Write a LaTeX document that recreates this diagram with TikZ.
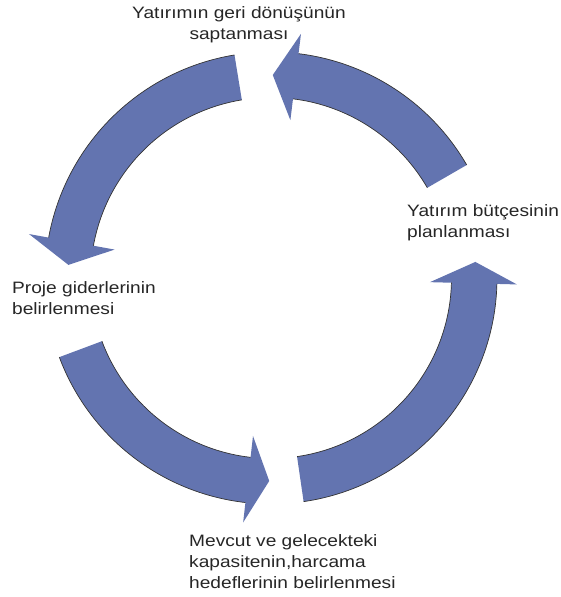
\documentclass[tikz,border=0pt]{standalone}
\usepackage{fontspec}
\setmainfont{Liberation Sans}[FakeStretch=1.16]
\definecolor{cycleblue}{RGB}{99,116,176}
\tikzset{
  ringarrow/.style={fill=cycleblue},
  ringedge/.style={draw=black!80, line width=0.7pt},
  phasetext/.style={inner sep=0pt, text=black!85, font=\fontsize{16.5}{21}\selectfont}
}
\begin{document}
\begin{tikzpicture}[x=1pt,y=1pt]
    \useasboundingbox (-271,278) rectangle (290,-319);

    \fill[ringarrow] (30:180.5) arc (30:83:180.5) -- (83:159) -- (89.5:203) -- (83:246) -- (83:226) arc (83:30:226) -- cycle;
    \draw[ringedge] (30:180.5) arc (30:83:180.5);
    \draw[ringedge] (30:226) arc (30:83:226);

    \fill[ringarrow] (99.3:180.5) arc (99.3:169.7:180.5) -- (169.7:159) -- (176.3:203) -- (169.7:246) -- (169.7:226) arc (169.7:99.3:226) -- cycle;
    \draw[ringedge] (99.3:180.5) arc (99.3:169.7:180.5);
    \draw[ringedge] (99.3:226) arc (99.3:169.7:226);

    \fill[ringarrow] (200.5:180.5) arc (200.5:263.5:180.5) -- (263.5:159) -- (269.5:203) -- (263.5:246) -- (263.5:226) arc (263.5:200.5:226) -- cycle;
    \draw[ringedge] (200.5:180.5) arc (200.5:263.5:180.5);
    \draw[ringedge] (200.5:226) arc (200.5:263.5:226);

    \fill[ringarrow] (278.3:180.5) arc (278.3:358.5:180.5) -- (358.5:159) -- (364.5:205) -- (358.5:246) -- (358.5:226) arc (358.5:278.3:226) -- cycle;
    \draw[ringedge] (278.3:180.5) arc (278.3:358.5:180.5);
    \draw[ringedge] (278.3:226) arc (278.3:358.5:226);

    \node[phasetext, align=center, anchor=base] (roi) at (-32,238.5) {Yatırımın geri dönüşünün\\saptanması};
    \node[phasetext, align=left, anchor=base west] (budget) at (136,40.5) {Yatırım bütçesinin\\planlanması};
    \node[phasetext, align=left, anchor=base west] (costs) at (-259,-36.5) {Proje giderlerinin\\belirlenmesi};
    \node[phasetext, align=left, anchor=base west] (capacity) at (-82,-310) {Mevcut ve gelecekteki\\kapasitenin,harcama\\hedeflerinin belirlenmesi};
\end{tikzpicture}
\end{document}
